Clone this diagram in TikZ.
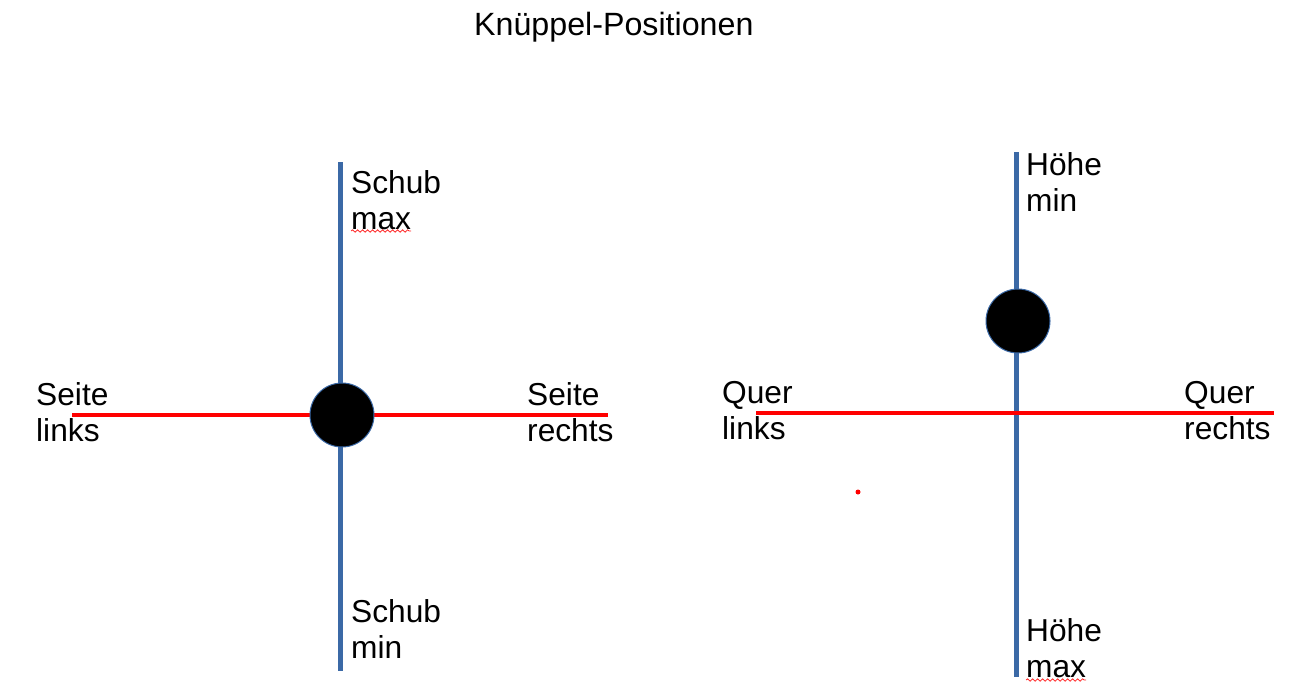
\documentclass[tikz,border=0pt]{standalone}
\usepackage{fontspec}
\setmainfont{Liberation Sans}
\usetikzlibrary{decorations.pathmorphing}
\tikzset{
  axisv/.style={draw=axisblue, line width=5pt},
  axish/.style={draw=red, line width=4.5pt},
  knob/.style={circle, fill=black, draw=axisblue, line width=1pt, minimum size=64pt, inner sep=0pt},
  lbl/.style={anchor=base west, inner sep=0pt, font=\fontsize{31.7}{36.5}\selectfont},
  squiggle/.style={draw=red!85!white, line width=0.8pt, decorate, decoration={snake, amplitude=1.2pt, segment length=5pt}}
}
\definecolor{axisblue}{HTML}{3B69A6}
\newcommand{\twoline}[2]{\begin{tabular}[t]{@{}l@{}}#1\\#2\end{tabular}}
\begin{document}
\begin{tikzpicture}[x=1pt,y=-1pt]
\useasboundingbox (0,0) rectangle (1297,688);
% title
\node[lbl, font=\fontsize{32.2}{36}\selectfont] (title) at (474,35) {Knüppel-Positionen};
% left stick
\coordinate (lt) at (340,162);
\coordinate (lb) at (340,671);
\coordinate (ll) at (72,415);
\coordinate (lr) at (608,415);
\draw[axisv] (lt) -- (lb);
\draw[axish] (ll) -- (lr);
\node[knob] (lknob) at (342,415) {};
\node[lbl] (schubmax) at (351,193) {\twoline{Schub}{max}};
\node[lbl] (seitelinks) at (36,405) {\twoline{Seite}{links}};
\node[lbl] (seiterechts) at (527,405) {\twoline{Seite}{rechts}};
\node[lbl] (schubmin) at (351,622) {\twoline{Schub}{min}};
\coordinate (sq1a) at (351,231);
\coordinate (sq1b) at (411,231);
\draw[squiggle] (sq1a) -- (sq1b);
% right stick
\coordinate (rt) at (1016,152);
\coordinate (rb) at (1016,677);
\coordinate (rl) at (756,413);
\coordinate (rr) at (1274,413);
\draw[axisv] (rt) -- (rb);
\draw[axish] (rl) -- (rr);
\node[knob] (rknob) at (1018,321) {};
\node[lbl] (hoehemin) at (1026,175) {\twoline{Höhe}{min}};
\node[lbl] (querlinks) at (722,403) {\twoline{Quer}{links}};
\node[lbl] (querrechts) at (1184,403) {\twoline{Quer}{rechts}};
\node[lbl] (hoehemax) at (1026,641) {\twoline{Höhe}{max}};
\coordinate (sq2a) at (1026,680);
\coordinate (sq2b) at (1086,680);
\draw[squiggle] (sq2a) -- (sq2b);
% stray dot
\fill[red] (858,492) circle (2.5pt);
\end{tikzpicture}
\end{document}
